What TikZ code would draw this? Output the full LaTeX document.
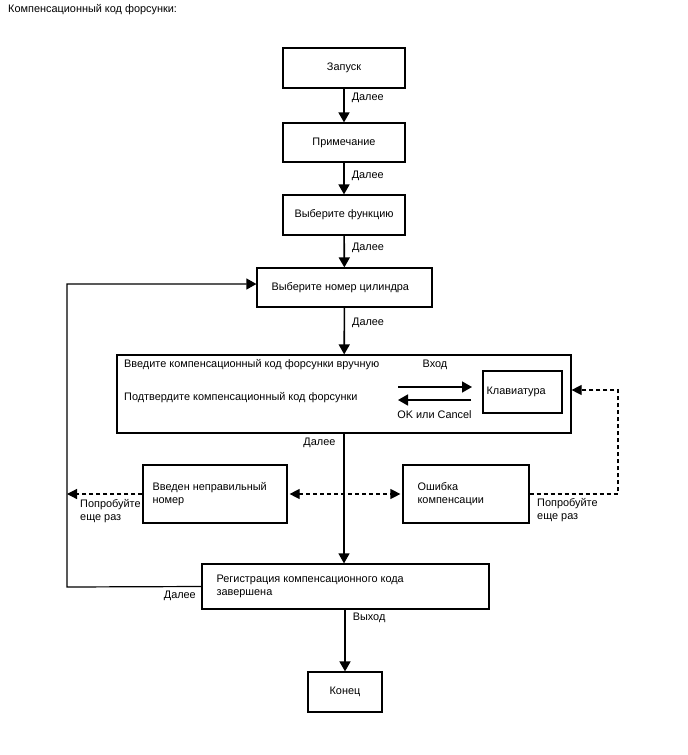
\documentclass[tikz,border=0pt]{standalone}
\usepackage{fontspec}
\setmainfont{Liberation Sans}
\usepackage{tikz}
\usetikzlibrary{shapes, arrows.meta, positioning}

\tikzset{
    box/.style={draw, line width=1.2pt, inner sep=0pt},
    txt/.style={inner sep=0pt, align=left},
    flow/.style={line width=1.6pt, -{Triangle[length=10pt, width=11pt]}},
    dasharr/.style={line width=1.2pt, dash pattern=on 4pt off 3pt, -{Triangle[length=10pt, width=10pt]}},
    lbl/.style={inner sep=0pt, anchor=west, xshift=7pt},
}

\begin{document}
\begin{tikzpicture}[x=1pt, y=-1pt, font=\fontsize{10.9}{13}\selectfont]
    \useasboundingbox (0,0) rectangle (688,755);

    % titre
    \node[txt, anchor=west] (title) at (8,10) {Компенсационный код форсунки:};

    % colonne principale
    \node[box, minimum width=122pt, minimum height=40pt] (start) at (344,68) {Запуск};
    \node[box, minimum width=122pt, minimum height=39pt] (note) at (344,142.5) {Примечание};
    \node[box, minimum width=122pt, minimum height=40pt] (func) at (344,215) {Выберите функцию};
    \node[box, minimum width=175pt, minimum height=39pt] (cyl) at (344.5,287.5) {};
    \node[txt, right=15pt of cyl.west] (cyltxt) {Выберите номер цилиндра};

    % saisie du code
    \node[box, minimum width=454pt, minimum height=78pt] (big) at (344,394) {};
    \node[txt, anchor=west] (enter) at (124,365) {Введите компенсационный код форсунки вручную};
    \node[txt, anchor=west] (confirm) at (124,398) {Подтвердите компенсационный код форсунки};
    \node[box, minimum width=79pt, minimum height=42pt] (kbd) at (522.5,392) {};
    \node[txt, right=4pt of kbd.west] (kbdtxt) {Клавиатура};
    \coordinate (inL) at (398,387);
    \coordinate (inR) at (472,387);
    \coordinate (outR) at (471,400);
    \coordinate (outL) at (398,400);
    \draw[flow] (inL) -- (inR) node[midway, above=17pt, inner sep=0pt] (in) {Вход};
    \draw[flow] (outR) -- (outL) node[midway, below=10pt, inner sep=0pt] (ok) {OK или Cancel};

    % erreurs
    \node[box, minimum width=144pt, minimum height=58pt] (wrong) at (215,494) {};
    \node[txt, right=10pt of wrong.west] (wrongtxt) {Введен неправильный\\номер};
    \node[box, minimum width=126pt, minimum height=58pt] (err) at (466,494) {};
    \node[txt, right=15pt of err.west] (errtxt) {Ошибка\\компенсации};

    % fin
    \node[box, minimum width=287pt, minimum height=45pt] (reg) at (345.5,586.5) {};
    \node[txt, right=15pt of reg.west] (regtxt) {Регистрация компенсационного кода\\завершена};
    \node[box, minimum width=74pt, minimum height=40pt] (end) at (345,692) {Конец};

    % fleches principales
    \draw[flow] (start) -- (note) node[lbl, pos=0.28] {Далее};
    \draw[flow] (note) -- (func) node[lbl, pos=0.42] {Далее};
    \draw[flow] (func) -- (cyl) node[lbl, pos=0.4] {Далее};
    \draw[flow] (cyl) -- (big) node[lbl, pos=0.32] {Далее};
    \draw[flow, line width=1.2pt] (big.south) -- (big.south |- reg.north)
        node[pos=0.07, anchor=east, inner sep=0pt, xshift=-8pt] {Далее};
    \draw[flow] (end.north |- reg.south) -- (end.north) node[lbl, pos=0.13] {Выход};

    % retour vers le cylindre
    \coordinate (loopB) at (67,587);
    \coordinate (loopT) at (67,284);
    \draw[flow, line width=1.2pt] (reg.west) -- (loopB) -- (loopT) -- (loopT -| cyl.west);
    \node[inner sep=0pt, anchor=east] at (196,596) {Далее};

    % essayer encore
    \draw[dasharr] (wrong.west) -- (wrong.west -| loopB);
    \node[txt, anchor=west] at (80,511.5) {Попробуйте\\еще раз};
    \draw[dasharr, {Triangle[length=10pt, width=10pt]}-{Triangle[length=10pt, width=10pt]}, shorten <=2pt, shorten >=2pt] (wrong.east) -- (err.west);
    \coordinate (rc) at (618,390);
    \draw[dasharr] (err.east) -- (err.east -| rc) -- (rc) -- (rc -| big.east);
    \node[txt, anchor=west] at (537,510) {Попробуйте\\еще раз};
\end{tikzpicture}
\end{document}
